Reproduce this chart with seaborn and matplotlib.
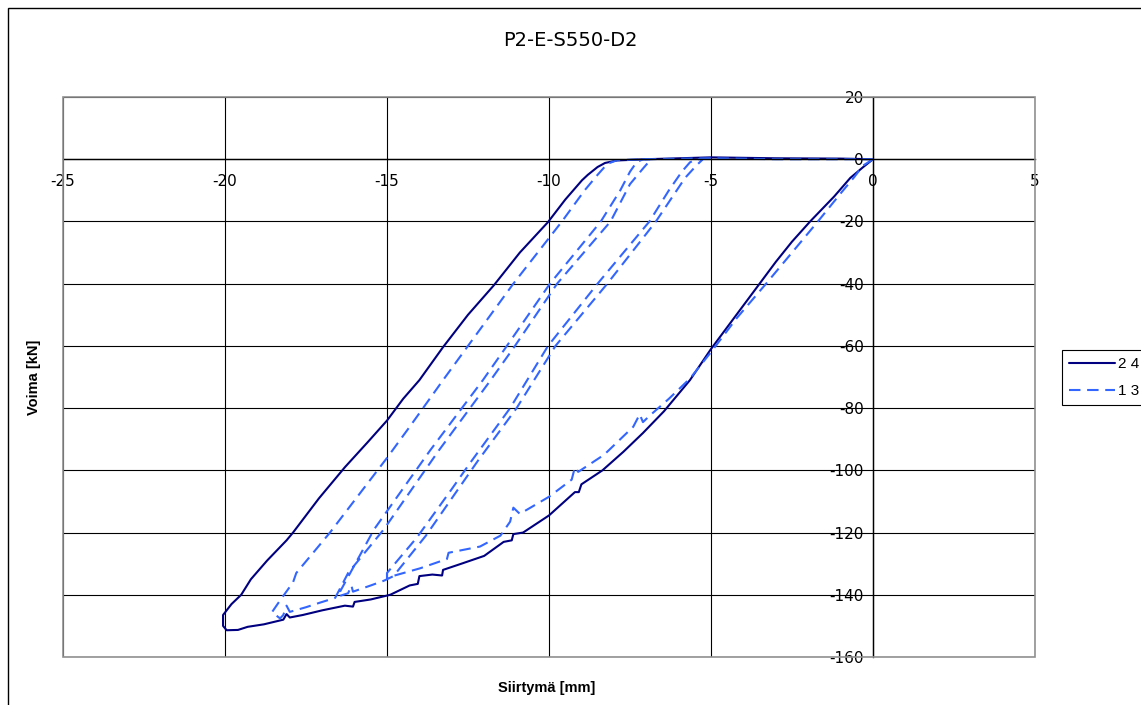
import matplotlib
matplotlib.use("Agg")
import matplotlib.pyplot as plt
from matplotlib.patches import Rectangle
import numpy as np
import pandas as pd
import seaborn as sns

# ---------------- data ----------------
series_names = ["2 4", "1 3"]

# series "2 4": loading envelope then unloading branch
x_24 = [0, -0.3, -0.7, -1.2, -1.94, -2.5, -3.0, -3.5, -4.0, -4.5, -5.0, -5.65, -6.45, -7.1, -7.7,
        -8.35, -9.0, -9.08, -9.2, -10.0, -10.8, -11.1, -11.15, -11.4, -12.0, -12.7, -13.27, -13.3,
        -13.6, -14.0, -14.05, -14.3, -14.9, -15.5, -16.0, -16.05, -16.3, -17.0, -17.6, -18.0, -18.1,
        -18.2, -18.8, -19.3, -19.6, -19.95, -20.06, -20.06,
        -19.8, -19.5, -19.2, -18.7, -18.1, -17.9, -17.1, -16.3, -15.6, -15.0, -14.5, -14.0, -13.27,
        -12.5, -11.7, -10.9, -10.03, -9.5, -8.98, -8.8, -8.5, -8.27, -7.9, -7.0, -5.0, -3.0, -1.0, 0]
y_24 = [0, -2.5, -6, -12, -20, -26.5, -33, -40, -47, -54, -61, -71, -81, -88, -94,
        -100, -104.5, -107, -107, -114.5, -120, -120.5, -122.5, -123, -127.5, -130, -132, -133.8,
        -133.5, -134, -136.5, -137, -140, -141.5, -142.3, -143.8, -143.5, -145, -146.5, -147.3, -146.2,
        -148, -149.5, -150.3, -151.3, -151.4, -150, -146.5,
        -143, -140, -135, -129, -122.5, -120, -109, -99, -91, -84, -77, -71, -60.4,
        -50, -40.5, -30, -20.2, -13, -6.75, -5, -2.5, -1.2, -0.4, 0, 0.6, 0.3, 0.2, 0]

# series "1 3": envelope with two unload/reload cycles and final unloading
x_13 = [0, -0.3, -0.6, -1.0, -1.7, -2.5, -3.3, -4.2, -5.0, -5.65, -6.3, -6.9, -7.1, -7.2, -7.4,
        -8.3, -9.1, -9.2, -9.3, -10.0, -10.9, -11.1, -11.2, -11.5, -12.13, -13.1, -13.15, -13.98, -15.0,
        -15.0, -14.07, -13.0, -12.44, -11.2, -10.03, -8.5, -6.9, -6.3, -5.9, -5.65, -5.45,
        -5.25, -5.45, -5.8, -6.7, -8.2, -9.8, -11.0, -12.2, -13.8, -14.8, -15.1,
        -15.5, -16.05, -16.1, -16.2, -16.5,
        -16.45, -15.4, -13.67, -12.04, -11.3, -9.97, -8.4, -7.8, -7.5, -7.3, -7.1,
        -6.85, -7.1, -7.5, -8.1, -9.75, -11.05, -11.8, -13.4, -15.1, -16.2, -16.6,
        -17.06, -17.5, -18.0, -18.1, -18.2, -18.3, -18.55,
        -18.3, -17.9, -17.8, -16.76, -15.0, -14.3, -13.27, -12.5, -11.1, -9.6, -8.9, -8.5, -8.2,
        -7.9, -7.0, -5.0, -3.0, 0]
y_13 = [0, -2, -6, -11, -20, -30, -40, -51, -62, -70.5, -77, -82.5, -84.5, -82, -86,
        -95, -100.5, -99, -103, -108.5, -114, -112, -116.5, -121, -124.5, -126.5, -128.5, -131.5, -134.5,
        -133, -121.5, -106, -97.7, -80, -60, -40, -20, -10, -4, -1, 0,
        0, -2, -6, -20, -40, -60, -80, -97, -121, -134, -135.5,
        -137, -139, -137, -139.5, -140.5,
        -139, -119, -93.6, -71, -60, -40, -20, -10, -4, -1, 0,
        0, -3, -8, -20, -40, -60, -71, -93.6, -119, -133, -141,
        -142.5, -144, -145.5, -143.5, -146.5, -147.6, -145.6,
        -141.8, -136, -133, -120, -96, -86, -71, -60, -40, -20, -10, -5, -1.5,
        -0.3, 0, 0.3, 0, 0]

x_ticks = [-25, -20, -15, -10, -5, 0, 5]
y_ticks = [20, 0, -20, -40, -60, -80, -100, -120, -140, -160]

title = "P2-E-S550-D2"
x_label = "Siirtymä [mm]"
y_label = "Voima [kN]"

# ---------------- figure ----------------
sns.set_style("white")
plt.rcParams["font.family"] = ["Liberation Sans", "DejaVu Sans"]
plt.rcParams["text.color"] = "black"

W, H = 1141, 705
fig = plt.figure(figsize=(W / 100, H / 100), dpi=100)
fig.patch.set_facecolor("white")

L, R, T, B = 63, 1035, 97, 657
ax = fig.add_axes([L / W, 1 - B / H, (R - L) / W, (B - T) / H])

df = pd.concat([
    pd.DataFrame({"x": x_24, "y": y_24, "series": "2 4", "idx": range(len(x_24))}),
    pd.DataFrame({"x": x_13, "y": y_13, "series": "1 3", "idx": range(len(x_13))}),
], ignore_index=True)

palette = {"2 4": "#000080", "1 3": "#3366FF"}
dashes = {"2 4": "", "1 3": (5.5, 3.2)}

sns.lineplot(data=df, x="x", y="y", hue="series", style="series",
             hue_order=series_names, style_order=series_names,
             palette=palette, dashes=dashes, sort=False, estimator=None,
             linewidth=1.5, ax=ax)

ax.set_xlim(-25, 5)
ax.set_ylim(-160, 20)
ax.set_xticks(x_ticks)
ax.set_yticks(y_ticks)
ax.set_xticklabels([str(v) for v in x_ticks])
ax.set_yticklabels([str(v) for v in y_ticks])
ax.set_xlabel("")
ax.set_ylabel("")

ax.grid(True, color="black", linewidth=0.8)
ax.set_axisbelow(True)

for s in ["top", "right"]:
    ax.spines[s].set_visible(False)
ax.spines["left"].set_position(("data", 0))
ax.spines["bottom"].set_position(("data", 0))
for s in ["left", "bottom"]:
    ax.spines[s].set_color("black")
    ax.spines[s].set_linewidth(1.0)

ax.add_patch(Rectangle((0, 0), 1, 1, transform=ax.transAxes, fill=False,
                       edgecolor="#909090", linewidth=1.2, zorder=5, clip_on=False))

ax.tick_params(axis="x", direction="out", length=6.5, width=0.8, color="black",
               pad=4, labelsize=11, labelcolor="black")
ax.tick_params(axis="y", direction="out", length=3.6, width=0.8, color="black",
               pad=3, labelsize=11, labelcolor="black")
for lab in ax.get_xticklabels() + ax.get_yticklabels():
    lab.set_family(["DejaVu Sans"])

# legend
handles, labels = ax.get_legend_handles_labels()
leg = ax.legend(handles, labels, loc="upper left",
                bbox_to_anchor=(1062 / W, 1 - 350 / H), bbox_transform=fig.transFigure,
                frameon=True, fancybox=False, edgecolor="black", framealpha=1,
                fontsize=11, handlelength=3.0, handletextpad=0.2, borderpad=0.45,
                labelspacing=0.85, borderaxespad=0)
leg.get_frame().set_linewidth(0.8)
for t in leg.get_texts():
    t.set_family(["Liberation Sans"])
    t.set_color("black")

# texts
fig.text(570 / W, 1 - 40 / H, title, ha="center", va="center", fontsize=14,
         family=["DejaVu Sans"], color="black")
fig.text(547 / W, 1 - 688 / H, x_label, ha="center", va="center", fontsize=10.5,
         fontweight="bold", color="black")
fig.text(34 / W, 1 - 377 / H, y_label, ha="center", va="center", fontsize=10.5,
         fontweight="bold", rotation=90, color="black")

# outer chart border
fig.add_artist(Rectangle((8 / W, -0.05), 1.2, 1 - 8 / H + 0.05, transform=fig.transFigure,
                         fill=False, edgecolor="black", linewidth=1.0))

fig.savefig("out.png", dpi=100)
